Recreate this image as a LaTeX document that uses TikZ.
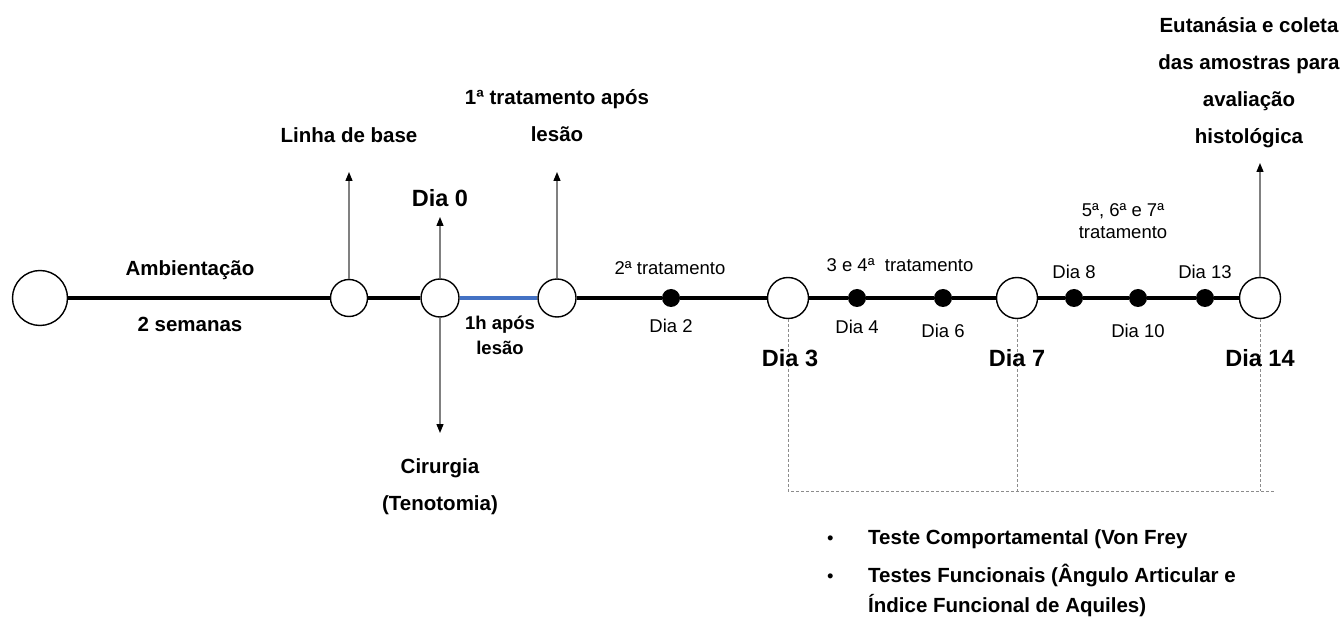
\documentclass[tikz,border=0pt]{standalone}
\usepackage{fontspec}
\setmainfont{Liberation Sans}
\usetikzlibrary{arrows.meta}
\begin{document}
\begin{tikzpicture}[x=1pt,y=-1pt,
  circ/.style={circle,draw=black,line width=1.4pt,fill=white,inner sep=0pt,minimum size=#1},
  dotn/.style={circle,fill=black,inner sep=0pt,minimum size=18pt},
  mainline/.style={line width=4.8pt,black},
  arr/.style={draw=gray,line width=1.3pt,-{Triangle[length=9pt,width=7pt,color=black]}},
  dashl/.style={draw=gray!90,line width=0.9pt,dash pattern=on 3pt off 2pt},
  bl/.style={font=\bfseries\fontsize{20.5}{37}\selectfont,align=center,inner sep=0pt},
  rg/.style={font=\fontsize{18.5}{22}\selectfont,align=center,inner sep=0pt},
  dia/.style={font=\bfseries\fontsize{23.5}{26}\selectfont,inner sep=0pt}]
\useasboundingbox (0,0) rectangle (1344,617);
% nodes on timeline
\node[circ=55pt] (A) at (40,298) {};
\node[circ=37pt] (B) at (349,298) {};
\node[circ=38pt] (C) at (440,298) {};
\node[circ=38pt] (D) at (557,298) {};
\node[dotn] (d2) at (671,298) {};
\node[circ=41pt] (E) at (788,298) {};
\node[dotn] (d4) at (857,298) {};
\node[dotn] (d6) at (943,298) {};
\node[circ=41pt] (F) at (1017,298) {};
\node[dotn] (d8) at (1074,298) {};
\node[dotn] (d10) at (1138,298) {};
\node[dotn] (d13) at (1205,298) {};
\node[circ=41pt] (G) at (1260,298) {};
% main line
\draw[mainline] (A) -- (B) -- (C);
\draw[line width=4.8pt,color={rgb,255:red,68;green,114;blue,196}] (C) -- (D);
\draw[mainline] (D) -- (d2) -- (E) -- (d4) -- (d6) -- (F) -- (d8) -- (d10) -- (d13) -- (G);
% arrow targets
\coordinate (tB) at (349,172);
\coordinate (tC) at (440,217);
\coordinate (tCd) at (440,433);
\coordinate (tD) at (557,172);
\coordinate (tG) at (1260,163);
\draw[arr] (B) -- (tB);
\draw[arr] (C) -- (tC);
\draw[arr] (C) -- (tCd);
\draw[arr] (D) -- (tD);
\draw[arr] (G) -- (tG);
% dashed brackets
\coordinate (bE) at (788,491);
\coordinate (bF) at (1017,491);
\coordinate (bG) at (1260,491);
\coordinate (bR) at (1276,491);
\draw[dashl] (E) -- (bE) -- (bR);
\draw[dashl] (F) -- (bF);
\draw[dashl] (G) -- (bG);
% labels
\node[bl] (amb) at (190,270) {Ambientação};
\node[bl] (sem) at (190,324) {2 semanas};
\node[bl] (lb) at (349,135) {Linha de base};
\node[bl] (t1) at (557,116) {1ª tratamento após\\lesão};
\node[dia] (dia0) at (440,198) {Dia 0};
\node[bl] (cir) at (440,487) {Cirurgia\\(Tenotomia)};
\node[bl,font=\bfseries\fontsize{18.5}{25}\selectfont] (h1) at (500,335) {1h após\\lesão};
\node[rg] (t2) at (670,268) {2ª tratamento};
\node[rg] (dia2) at (671,326) {Dia 2};
\node[rg] (t34) at (900,265) {3 e 4ª\ \ tratamento};
\node[rg] (dia4) at (857,327) {Dia 4};
\node[rg] (dia6) at (943,331) {Dia 6};
\node[dia] (dia3) at (790,358) {Dia 3};
\node[dia] (dia7) at (1017,358) {Dia 7};
\node[dia] (dia14) at (1260,358) {Dia 14};
\node[rg] (dia8) at (1074,272) {Dia 8};
\node[rg] (dia13) at (1205,272) {Dia 13};
\node[rg] (dia10) at (1138,331) {Dia 10};
\node[rg] (t567) at (1123,221) {5ª, 6ª e 7ª\\tratamento};
\node[bl] (eut) at (1249,83) {Eutanásia e coleta\\das amostras para\\avaliação\\histológica};
% bullets
\node[rg,anchor=base west] (b1) at (827,544) {•};
\node[bl,anchor=base west] (bt1) at (868,544) {Teste Comportamental (Von Frey};
\node[rg,anchor=base west] (b2) at (827,582) {•};
\node[bl,anchor=base west] (bt2) at (868,582) {Testes Funcionais (Ângulo Articular e};
\node[bl,anchor=base west] (bt3) at (868,612) {Índice Funcional de Aquiles)};
\end{tikzpicture}
\end{document}
